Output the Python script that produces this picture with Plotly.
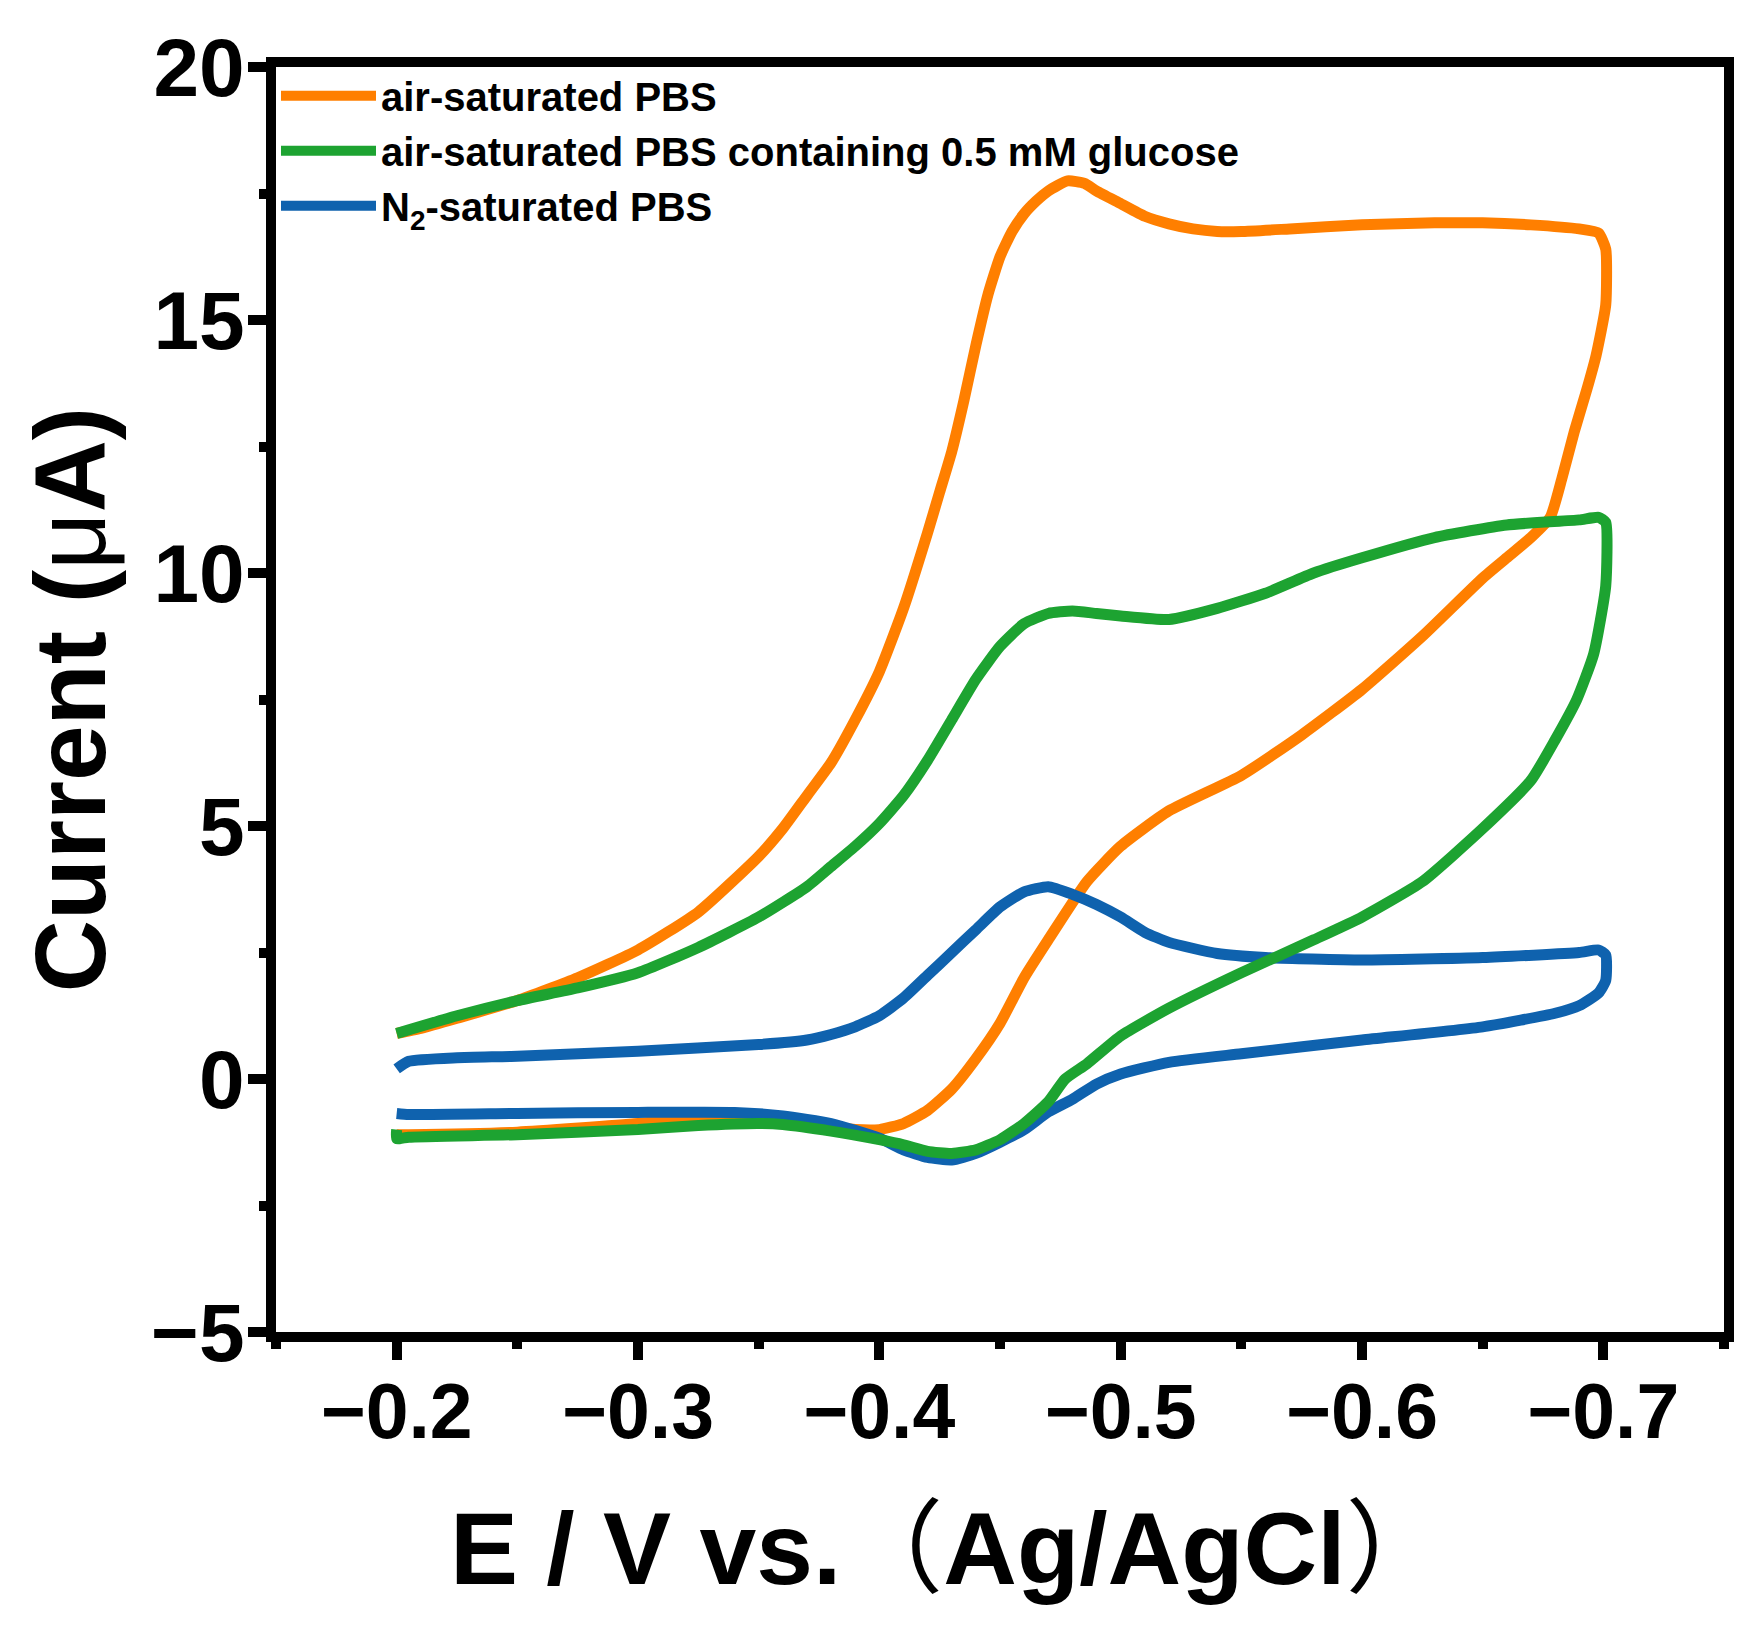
import plotly.graph_objects as go

# Cyclic voltammograms, values
# potential in V vs Ag/AgCl, current in uA

air_e = [-0.200, -0.210, -0.225, -0.250, -0.275, -0.300, -0.325, -0.350, -0.360, -0.370,
         -0.380, -0.390, -0.400, -0.410, -0.420, -0.425, -0.430, -0.435, -0.440, -0.445,
         -0.450, -0.455, -0.460, -0.465, -0.470, -0.478, -0.485, -0.490, -0.500, -0.510,
         -0.520, -0.530, -0.540, -0.550, -0.570, -0.600, -0.630, -0.650, -0.670, -0.690,
         -0.698, -0.701, -0.701, -0.697, -0.693, -0.688, -0.683, -0.678, -0.670, -0.660,
         -0.650, -0.625, -0.600, -0.575, -0.550, -0.520, -0.500, -0.486, -0.470, -0.460,
         -0.450, -0.440, -0.430, -0.420, -0.410, -0.400, -0.390, -0.380, -0.350, -0.325,
         -0.300, -0.250, -0.205, -0.200]
air_i = [0.90, 1.00, 1.20, 1.55, 2.00, 2.55, 3.30, 4.40, 4.95, 5.60,
         6.25, 7.10, 8.05, 9.30, 10.80, 11.60, 12.40, 13.40, 14.50, 15.50,
         16.25, 16.75, 17.10, 17.35, 17.55, 17.75, 17.70, 17.55, 17.30, 17.05,
         16.90, 16.80, 16.75, 16.75, 16.80, 16.88, 16.92, 16.92, 16.88, 16.80,
         16.72, 16.40, 15.30, 14.30, 13.60, 12.80, 11.90, 11.10, 10.70, 10.30,
         9.90, 8.75, 7.70, 6.80, 6.00, 5.30, 4.60, 3.90, 2.75, 2.00,
         1.10, 0.40, -0.20, -0.62, -0.88, -1.00, -1.00, -0.95, -0.80, -0.75,
         -0.88, -1.05, -1.10, -1.10]

glu_e = [-0.200, -0.225, -0.250, -0.275, -0.300, -0.325, -0.350, -0.370, -0.380, -0.390,
         -0.400, -0.410, -0.420, -0.430, -0.440, -0.450, -0.460, -0.470, -0.480, -0.490,
         -0.500, -0.520, -0.540, -0.560, -0.580, -0.600, -0.630, -0.660, -0.690, -0.698,
         -0.701, -0.701, -0.696, -0.689, -0.680, -0.670, -0.650, -0.625, -0.600, -0.580,
         -0.550, -0.520, -0.500, -0.486, -0.477, -0.470, -0.460, -0.450, -0.440, -0.430,
         -0.420, -0.410, -0.400, -0.380, -0.360, -0.350, -0.325, -0.300, -0.250, -0.205,
         -0.200, -0.200]
glu_i = [0.90, 1.25, 1.55, 1.80, 2.10, 2.60, 3.20, 3.80, 4.20, 4.60,
         5.05, 5.60, 6.30, 7.10, 7.90, 8.55, 9.00, 9.20, 9.25, 9.20,
         9.15, 9.08, 9.30, 9.60, 10.00, 10.30, 10.70, 10.95, 11.05, 11.10,
         11.00, 9.75, 8.40, 7.50, 6.70, 5.90, 4.95, 3.90, 3.20, 2.75,
         2.10, 1.40, 0.85, 0.30, 0.00, -0.45, -0.88, -1.20, -1.40, -1.47,
         -1.43, -1.30, -1.20, -1.03, -0.90, -0.88, -0.92, -1.00, -1.10, -1.15,
         -1.18, -1.00]

n2_e = [-0.200, -0.205, -0.225, -0.250, -0.300, -0.350, -0.370, -0.380, -0.390, -0.400,
        -0.410, -0.420, -0.430, -0.440, -0.450, -0.460, -0.470, -0.480, -0.490, -0.500,
        -0.510, -0.520, -0.540, -0.560, -0.600, -0.650, -0.690, -0.698, -0.701, -0.701,
        -0.698, -0.690, -0.680, -0.650, -0.600, -0.550, -0.520, -0.500, -0.490, -0.480,
        -0.470, -0.460, -0.450, -0.440, -0.430, -0.420, -0.410, -0.400, -0.380, -0.360,
        -0.340, -0.300, -0.250, -0.205, -0.200]
n2_i = [0.20, 0.35, 0.42, 0.45, 0.55, 0.68, 0.77, 0.88, 1.03, 1.25,
        1.60, 2.05, 2.50, 2.95, 3.40, 3.70, 3.80, 3.65, 3.45, 3.20,
        2.90, 2.70, 2.48, 2.40, 2.35, 2.40, 2.50, 2.55, 2.45, 1.95,
        1.70, 1.45, 1.30, 1.03, 0.77, 0.50, 0.33, 0.10, -0.10, -0.40,
        -0.65, -1.00, -1.25, -1.47, -1.60, -1.55, -1.40, -1.17, -0.88, -0.73,
        -0.66, -0.66, -0.68, -0.70, -0.68]

names = ["air-saturated PBS",
         "air-saturated PBS containing 0.5 mM glucose",
         "N<sub>2</sub>-saturated PBS"]
colors = ["#FF7F00", "#1DA331", "#0F62AE"]

FONT = "Liberation Sans, Arial, sans-serif"

fig = go.Figure()
# draw order: orange, blue, green (legend order kept with legendrank)
for e, i, k in [(air_e, air_i, 0), (n2_e, n2_i, 2), (glu_e, glu_i, 1)]:
    fig.add_trace(go.Scatter(
        x=e, y=i, mode="lines", name=names[k],
        line=dict(color=colors[k], width=11, shape="spline", smoothing=0.5),
        legendrank=k + 1, legendgroup=str(k),
    ))

axis_common = dict(
    showline=True, linecolor="black", linewidth=10, mirror=True,
    ticks="outside", ticklen=18, tickwidth=10, tickcolor="black",
    showgrid=False, zeroline=False,
)

fig.update_xaxes(
    range=[-0.15, -0.75], tickmode="array",
    tickvals=[-0.2, -0.3, -0.4, -0.5, -0.6, -0.7],
    ticktext=["\u22120.2", "\u22120.3", "\u22120.4", "\u22120.5", "\u22120.6", "\u22120.7"],
    ticklabelstandoff=-14,
    tickfont=dict(family=FONT, size=77, color="black", weight="bold"),
    minor=dict(ticks="outside", ticklen=7, tickwidth=10, tickcolor="black", dtick=0.05,
               tick0=-0.15, showgrid=False),
    **axis_common,
)
fig.update_yaxes(
    range=[-5, 20], tickmode="array",
    tickvals=[-5, 0, 5, 10, 15, 20],
    ticktext=["\u22125", "0", "5", "10", "15", "20"],
    ticklabelstandoff=-13,
    tickfont=dict(family=FONT, size=82, color="black", weight="bold"),
    minor=dict(ticks="outside", ticklen=7, tickwidth=10, tickcolor="black", dtick=2.5,
               tick0=0, showgrid=False),
    title=dict(text="Current (<span style='font-weight:normal'>\u03bc</span>A)",
               font=dict(family=FONT, size=100, color="black", weight="bold"),
               standoff=16),
    **axis_common,
)

fig.add_annotation(
    text="E / V vs.<span style='font-weight:normal;font-family:Noto Sans CJK SC'>\uff08</span>Ag/AgCl"
         "<span style='font-weight:normal;font-family:Noto Sans CJK SC'>\uff09</span>",
    xref="paper", yref="paper", x=0.5 - 51 / 1448, y=-0.104,
    xanchor="center", yanchor="top", showarrow=False,
    font=dict(family=FONT, size=102, color="black", weight="bold"),
)

fig.update_layout(
    width=1757, height=1630,
    margin=dict(l=276, r=33, t=67, b=298),
    plot_bgcolor="white", paper_bgcolor="white",
    showlegend=True,
    legend=dict(x=0.0, y=1.003, xanchor="left", yanchor="top",
                bgcolor="rgba(0,0,0,0)", borderwidth=0,
                itemwidth=95, tracegroupgap=0, traceorder="grouped",
                font=dict(family=FONT, size=40, color="black", weight="bold")),
)

fig.write_html("out.html", config={"displayModeBar": False},
               post_script="document.body.style.margin='0';")
